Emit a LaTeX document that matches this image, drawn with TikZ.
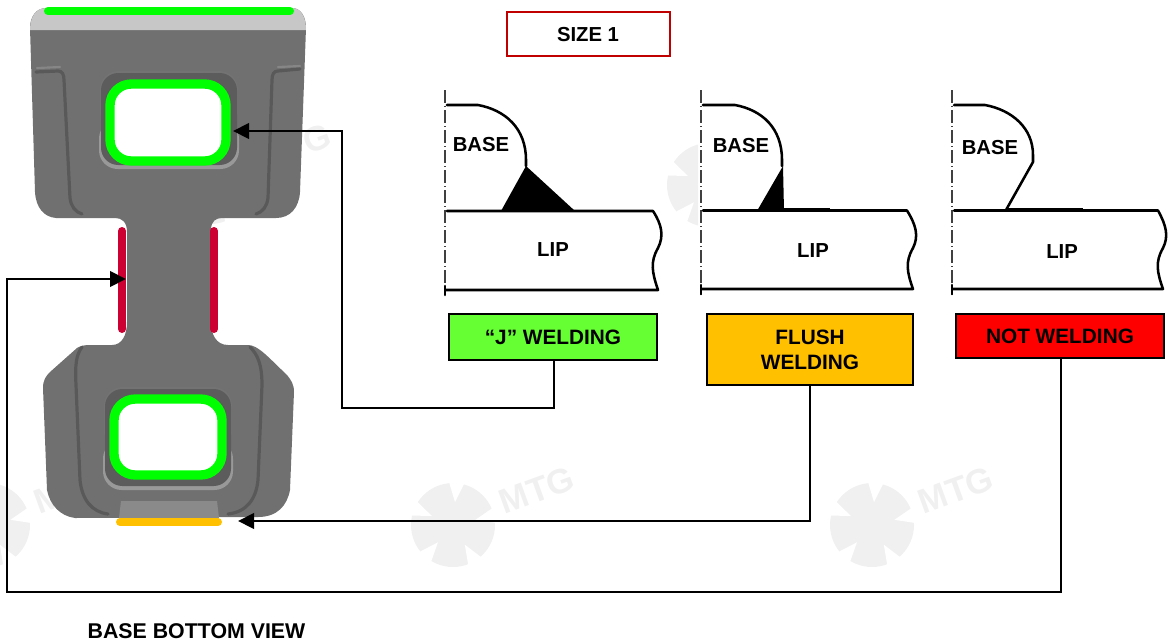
\documentclass[tikz,border=0pt]{standalone}
\usepackage{fontspec}
\setmainfont{Liberation Sans}
\usetikzlibrary{arrows.meta}
\definecolor{wm}{HTML}{F0F0F0}
\definecolor{body}{HTML}{707070}
\definecolor{greenweld}{HTML}{00FF00}
\definecolor{redweld}{HTML}{CC0033}
\definecolor{orangeweld}{HTML}{FFC000}
\newcommand{\wmark}[2]{%
  \begin{scope}[shift={(#1,#2)}]
    \fill[wm] (0,0) circle[radius=42];
    \foreach \a in {85,13,-59,-131,157}{
      \fill[white] ({23*cos(\a)},{-23*sin(\a)}) -- ({46*cos(\a+11)},{-46*sin(\a+11)}) -- ({46*cos(\a-11)},{-46*sin(\a-11)}) -- cycle;
    }
    \node[wmtext] (wm#1) at (84,-35) {MTG};
  \end{scope}}
\tikzset{
  x=0.75pt,y=-0.75pt,
  lbl/.style={font=\fontsize{15.6pt}{18.6pt}\selectfont\bfseries,align=center,inner sep=0pt,text=black},
  caplbl/.style={font=\fontsize{16pt}{19pt}\selectfont\bfseries,inner sep=0pt,text=black},
  smalllbl/.style={font=\fontsize{15.2pt}{18pt}\selectfont\bfseries,inner sep=0pt,text=black},
  wmtext/.style={font=\fontsize{26pt}{26pt}\selectfont\bfseries,text=wm,rotate=20,inner sep=0pt},
  tagbox/.style={draw=black,line width=1pt,inner sep=0pt,lbl},
  conn/.style={draw=black,line width=2.2pt,-{Triangle[length=12pt,width=11.5pt]}},
  profile/.style={draw=black,line width=1.9pt,line cap=round,line join=round},
  axisline/.style={draw=black!75,line width=1pt,dash pattern=on 10pt off 2pt on 1pt off 2pt},
  rib/.style={draw=black!50!body,line width=2.4pt,line cap=round,opacity=.4},
  ribl/.style={draw=white,line width=1.6pt,line cap=round,opacity=.16},
}
\begin{document}
\begin{tikzpicture}
\useasboundingbox (0,0) rectangle (1170,643);
% watermarks
\begin{scope}
\clip (0,0) rectangle (1170,643);
\wmark{-12}{525}
\wmark{453}{525}
\wmark{872}{525}
\wmark{210}{182}
\end{scope}
\begin{scope}
  \clip (660,140) rectangle (698,230);
  \wmark{709}{185}
\end{scope}

% base, upper end
\fill[body] (46,8) -- (292,8) .. controls (301,8) and (306,17) .. (306,28)
  -- (300,192) .. controls (299,208) and (290,218) .. (276,218) -- (222,218)
  .. controls (216,218) and (211,221) .. (211,230) -- (211,322)
  .. controls (211,334) and (216,345) .. (228,345) -- (248,345)
  .. controls (258,345) and (268,357) .. (287,375) .. controls (291,380) and (294,384) .. (294,392)
  -- (290,490) .. controls (287,506) and (277,517) .. (258,517) -- (75,518)
  .. controls (60,516) and (50,505) .. (47,490) -- (43,388)
  .. controls (43,380) and (46,376) .. (50,372) -- (77,348) .. controls (80,346) and (84,345) .. (90,345)
  -- (112,345) .. controls (122,345) and (127,335) .. (127,322) -- (127,232)
  .. controls (127,222) and (122,218) .. (115,218) -- (56,218)
  .. controls (44,217) and (36,208) .. (35,192) -- (30,28) .. controls (30,17) and (36,8) .. (46,8) -- cycle;
\fill[black!22] (46,8) -- (292,8) .. controls (301,8) and (306,17) .. (306,30) -- (30,30) .. controls (30,17) and (36,8) .. (46,8) -- cycle;
% ribs upper
\draw[rib] (36,72) -- (58,71) .. controls (62,71) and (64,74) .. (64,80) -- (70,198) .. controls (71,206) and (75,212) .. (82,214);
\draw[rib] (300,69) -- (278,71) .. controls (274,71) and (272,74) .. (272,80) -- (268,198) .. controls (267,206) and (263,212) .. (256,214);
\draw[ribl] (37,68) -- (60,67);
\draw[ribl] (278,67) -- (300,66);
% ribs lower
\draw[rib] (82,347) .. controls (76,355) and (75,365) .. (76,385) -- (80,480) .. controls (82,500) and (92,512) .. (108,514);
\draw[rib] (250,347) .. controls (258,355) and (262,365) .. (262,385) -- (258,480) .. controls (256,500) and (246,512) .. (228,514);
% dished holes
\fill[black!40,rounded corners=14pt] (99,120) rectangle (239,169);
\fill[black!55,rounded corners=14pt] (100,71) rectangle (238,130);
\fill[black!64,rounded corners=13pt] (101,73) rectangle (237,165);
\fill[black!40,rounded corners=14pt] (103,440) rectangle (233,490);
\fill[black!55,rounded corners=14pt] (104,387) rectangle (232,450);
\fill[black!64,rounded corners=13pt] (105,389) rectangle (231,486);
% lower tab
\fill[black!46] (121,501) -- (217,501) -- (219,518) -- (119,518) -- cycle;
% weld seams on the part
\draw[greenweld,line width=7pt,rounded corners=16pt,fill=white] (110,84) rectangle (226,161);
\draw[greenweld,line width=7pt,rounded corners=16pt,fill=white] (114,399) rectangle (222,475);
\draw[greenweld,line width=6pt,line cap=round] (48,11) -- (290,11);
\draw[redweld,line width=6pt,line cap=round] (122,231) -- (122,329);
\draw[redweld,line width=6pt,line cap=round] (214,231) -- (214,329);
\draw[orangeweld,line width=6pt,line cap=round] (120,522) -- (218,522);
\coordinate (holetarget) at (233,131);
\coordinate (redtarget) at (126,279);
\coordinate (tabtarget) at (238,521);

% title and boxes
\node[draw={rgb,255:red,192;green,0;blue,0},line width=1.1pt,fill=white,minimum width=122pt,minimum height=33pt,inner sep=0pt] (size) at (588.5,34) {};
\node[smalllbl] (sizetxt) at (588,35) {SIZE 1};
\node[tagbox,fill={rgb,255:red,102;green,255;blue,51},minimum width=156pt,minimum height=34.5pt] (jbox) at (553,337) {“J” WELDING};
\node[tagbox,fill=orangeweld,minimum width=154.5pt,minimum height=53.25pt] (flushbox) at (810,349.5) {FLUSH\\[0pt]WELDING};
\node[tagbox,fill=red,minimum width=156pt,minimum height=33pt] (notbox) at (1060,336) {NOT WELDING};

% J profile
\draw[axisline] (445,90) -- (445,295);
\draw[profile] (447,105) -- (478,105) .. controls (505,110) and (526,128) .. (526,160) -- (526,166);
\fill[black] (526,166) -- (501,211) -- (575,211) -- cycle;
\draw[profile] (447,211) -- (653,211) .. controls (662,225) and (664,236) .. (658,248) .. controls (650,262) and (652,272) .. (658,290) -- (446,290);
\draw[profile] (445,286) -- (445,295);
% flush profile
\draw[axisline] (701,90) -- (701,295);
\draw[profile] (703,105) -- (735,105) .. controls (762,110) and (782,128) .. (782,160) -- (782,166);
\fill[black] (783,166) -- (757,211) -- (784,211) -- cycle;
\draw[profile] (703,210.5) -- (907,210.5) .. controls (916,225) and (919,236) .. (913,248) .. controls (905,262) and (907,272) .. (913,289) -- (702,289);
\draw[black,line width=2.4pt] (783,210) -- (830,210);
\draw[profile] (701,285) -- (701,294);
% no weld profile
\draw[axisline] (952,90) -- (952,295);
\draw[profile] (954,105) -- (985,105) .. controls (1012,110) and (1033,128) .. (1033,155) -- (1033,162) -- (1006,210);
\draw[profile] (954,210.5) -- (1158,210.5) .. controls (1166,225) and (1169,236) .. (1163,248) .. controls (1155,262) and (1157,272) .. (1163,289) -- (953,289);
\draw[black,line width=2.4pt] (1006,210) -- (1083,210);
\draw[profile] (952,285) -- (952,294);

\node[smalllbl] (base1) at (481,145) {BASE};
\node[smalllbl] (base2) at (741,146) {BASE};
\node[smalllbl] (base3) at (990,148) {BASE};
\node[smalllbl] (lip1) at (553,249.5) {LIP};
\node[smalllbl] (lip2) at (813,250.5) {LIP};
\node[smalllbl] (lip3) at (1062,251.5) {LIP};
\node[caplbl] (caption) at (196.5,631) {BASE BOTTOM VIEW};

% connectors
\coordinate (j1) at (342,408);
\coordinate (j2) at (342,131);
\draw[conn] (jbox.south -| 554,0) -- (554,408) -- (j1) -- (j2) -- (holetarget);
\coordinate (f1) at (810,521);
\draw[conn] (flushbox.south) -- (f1) -- (tabtarget);
\coordinate (n1) at (1061,592);
\coordinate (n2) at (7,592);
\coordinate (n3) at (7,279);
\draw[conn] (notbox.south -| 1061,0) -- (n1) -- (n2) -- (n3) -- (redtarget);
\end{tikzpicture}
\end{document}
